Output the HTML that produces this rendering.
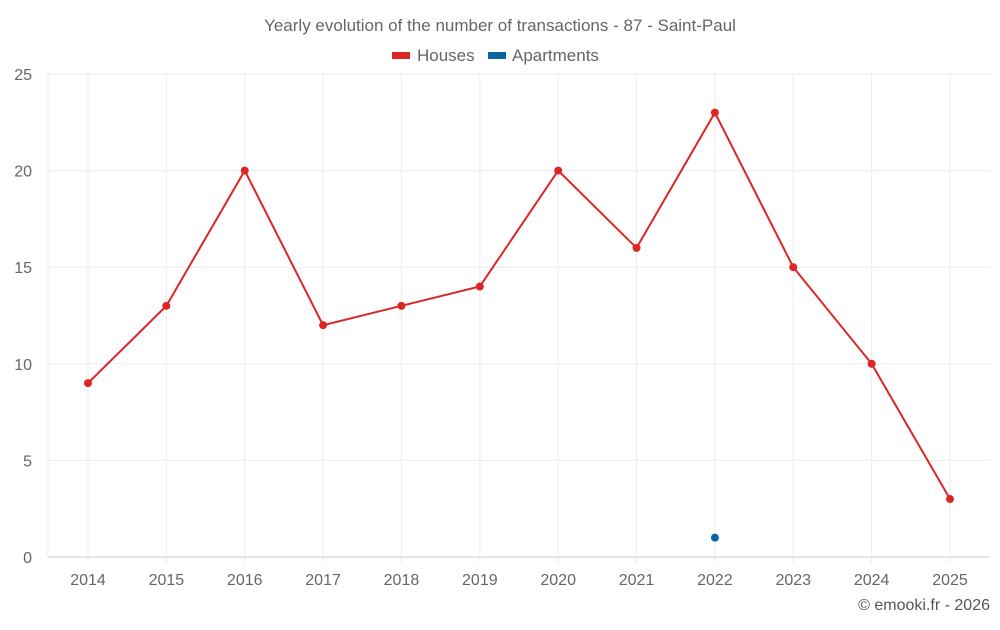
<!DOCTYPE html>
<html><head><meta charset="utf-8"><style>
body{margin:0;background:#fff;font-family:"Liberation Sans",sans-serif;}
svg text{font-family:"Liberation Sans",sans-serif;}
</style></head><body>
<svg id="chart" width="1000" height="625">
<text x="500" y="31" text-anchor="middle" font-size="17" fill="#666">Yearly evolution of the number of transactions - 87 - Saint-Paul</text>
<g>
<g><rect x="392" y="52" width="18" height="7" fill="#dc2626"/><text x="417" y="61" font-size="17" fill="#666">Houses</text></g>
<g><rect x="488" y="52" width="18" height="7" fill="#0a66a3"/><text x="512" y="61" font-size="17" fill="#666">Apartments</text></g>
</g>
<g id="grid"></g><g id="axes"></g><g id="series"></g>
<text x="990" y="610" text-anchor="end" font-size="16" fill="#555">© emooki.fr - 2026</text>
</svg>
<script>
const years=[2014,2015,2016,2017,2018,2019,2020,2021,2022,2023,2024,2025];
const houses=[9,13,20,12,13,14,20,16,23,15,10,3];
const apartments=[null,null,null,null,null,null,null,null,1,null,null,null];
const yTicks=[0,5,10,15,20,25];
const L=48,R=990,T=74,B=557,yMax=25;
const x=i=>88+i*(950-88)/(years.length-1);
const y=v=>B-(v/yMax)*(B-T);
const ns="http://www.w3.org/2000/svg";
function mk(p,t,a){const e=document.createElementNS(ns,t);for(const k in a)e.setAttribute(k,a[k]);p.appendChild(e);return e;}
const grid=document.getElementById('grid'),axes=document.getElementById('axes'),ser=document.getElementById('series');
yTicks.forEach(v=>{
 const l=mk(grid,'line',{x1:L,x2:R,y1:y(v),y2:y(v),stroke:v===0?'#ccc':'#ebebeb'});
 
 
 const t=mk(axes,'text',{x:32,y:y(v)+6,'text-anchor':'end','font-size':16,fill:'#666'});t.textContent=v;
 
 
});
mk(grid,'line',{x1:L,x2:L,y1:T,y2:B,stroke:'#ebebeb'});
years.forEach((yr,i)=>{
 const g=mk(grid,'line',{x1:x(i),x2:x(i),y1:T,y2:B+6,stroke:'#ebebeb'});
 
 
 const t=mk(axes,'text',{x:x(i),y:585,'text-anchor':'middle','font-size':16,fill:'#666'});t.textContent=yr;
 
 
});
const p=mk(ser,'polyline',{points:houses.map((v,i)=>x(i)+','+y(v)).join(' '),fill:'none',stroke:'#dc2626','stroke-width':2});


houses.forEach((v,i)=>{const c=mk(ser,'circle',{cx:x(i),cy:y(v),r:4,fill:'#dc2626'});
 
 });
apartments.forEach((v,i)=>{if(v==null)return;const c=mk(ser,'circle',{cx:x(i),cy:y(v),r:4,fill:'#0a66a3'});
 
 });
</script>
</body></html>
